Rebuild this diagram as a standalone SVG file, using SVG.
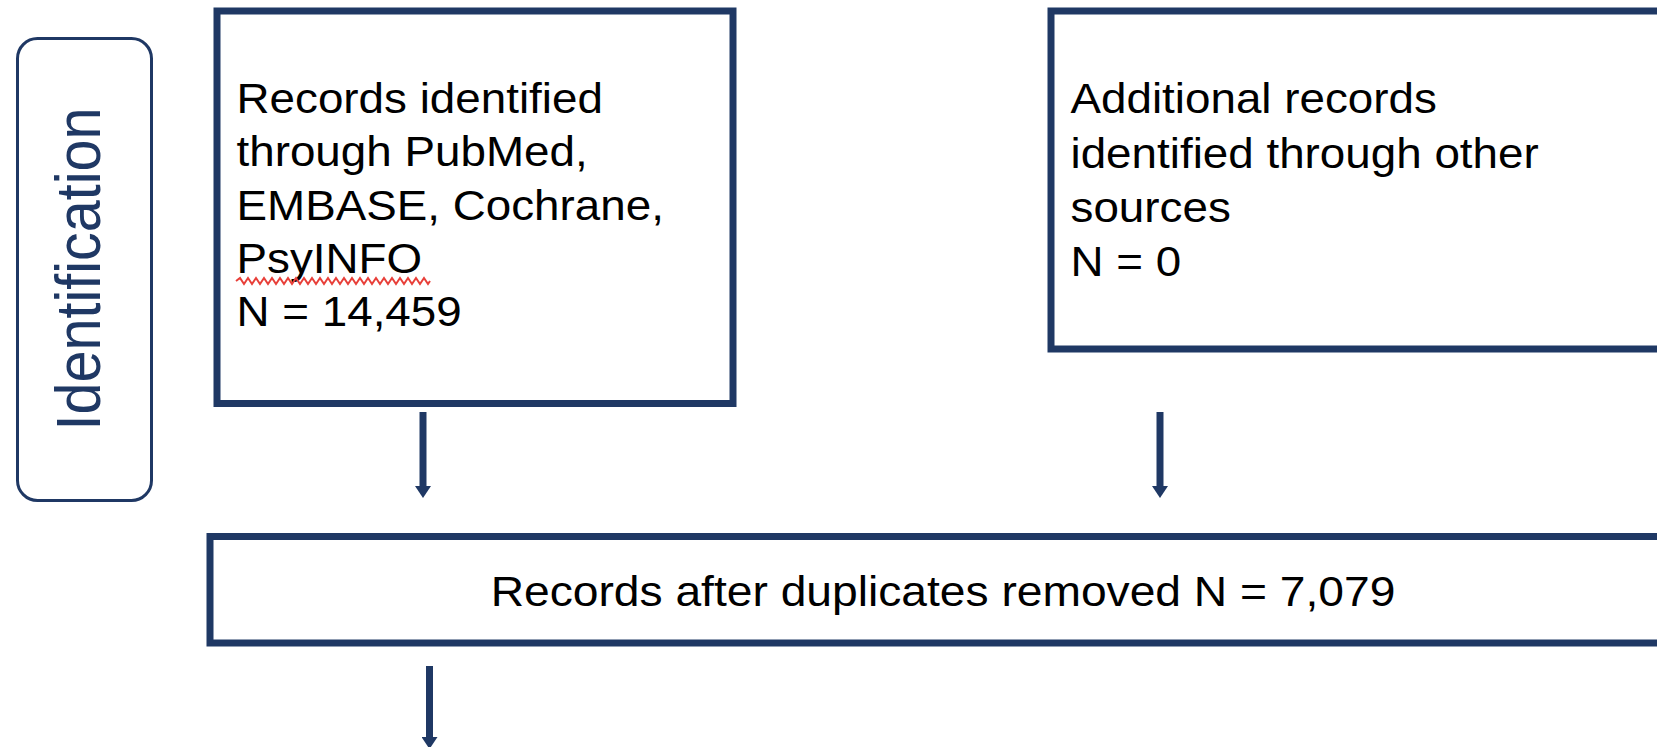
<svg xmlns="http://www.w3.org/2000/svg" width="1657" height="747" viewBox="0 0 1657 747">
<style>
.box{fill:#ffffff;stroke:#1F3864;stroke-width:7}
.phase{fill:#ffffff;stroke:#1F3864;stroke-width:3}
.t{font-family:"Liberation Sans",Arial,sans-serif;font-size:42px;fill:#000000}
.pt{font-family:"Liberation Sans",Arial,sans-serif;font-size:57.5px;fill:#1F3864}
.conn{stroke:#1F3864;stroke-width:7;fill:none}
.squig{stroke:#E8403A;stroke-width:2;fill:none}
</style>
<defs>
<marker id="ah" viewBox="0 0 12 16" refX="0" refY="8" markerWidth="12" markerHeight="16" markerUnits="userSpaceOnUse" orient="auto">
<path d="M0,0 L12,8 L0,16 z" fill="#1F3864"/>
</marker>
</defs>
<rect width="1657" height="747" fill="#ffffff"/>
<g id="phase-identification">
<rect class="phase" x="17.5" y="38.5" width="134" height="462" rx="20" ry="20"/>
<text class="pt" text-anchor="middle" transform="translate(100,269) scale(1.1,1) rotate(-90)" x="0" y="0">Identification</text>
</g>
<g id="connectors">
<line class="conn" x1="423" y1="412" x2="423" y2="486" marker-end="url(#ah)"/>
<line class="conn" x1="1160" y1="412" x2="1160" y2="486" marker-end="url(#ah)"/>
<line class="conn" x1="429.5" y1="666" x2="429.5" y2="737" marker-end="url(#ah)"/>
</g>
<g id="node-databases">
<rect class="box" x="217" y="11" width="516" height="392.5"/>
<text class="t" transform="translate(236.5,0) scale(1.09,1)">
<tspan x="0" y="113">Records identified</tspan>
<tspan x="0" y="166.5">through PubMed,</tspan>
<tspan x="0" y="220">EMBASE, Cochrane,</tspan>
<tspan x="0" y="273.5">PsyINFO</tspan>
<tspan x="0" y="326">N = 14,459</tspan>
</text>
<path class="squig" d="M236,281 l4,-3 l4,6 l4,-6 l4,6 l4,-6 l4,6 l4,-6 l4,6 l4,-6 l4,6 l4,-6 l4,6 l4,-6 l4,6 l4,-6 l4,6 l4,-6 l4,6 l4,-6 l4,6 l4,-6 l4,6 l4,-6 l4,6 l4,-6 l4,6 l4,-6 l4,6 l4,-6 l4,6 l4,-6 l4,6 l4,-6 l4,6 l4,-6 l4,6 l4,-6 l4,6 l4,-6 l4,6 l4,-6 l4,6 l4,-6 l4,6 l4,-6 l4,6 l4,-6 l4,6 l2,-3"/>
</g>
<g id="node-other-sources">
<rect class="box" x="1051" y="11" width="700" height="338"/>
<text class="t" transform="translate(1070.5,0) scale(1.09,1)">
<tspan x="0" y="113">Additional records</tspan>
<tspan x="0" y="168">identified through other</tspan>
<tspan x="0" y="222.5">sources</tspan>
<tspan x="0" y="276">N = 0</tspan>
</text>
</g>
<g id="node-duplicates-removed">
<rect class="box" x="210" y="536.5" width="1540" height="106.5"/>
<text class="t" text-anchor="middle" transform="translate(943,0) scale(1.1,1)" x="0" y="606.5">Records after duplicates removed N = 7,079</text>
</g>
</svg>
